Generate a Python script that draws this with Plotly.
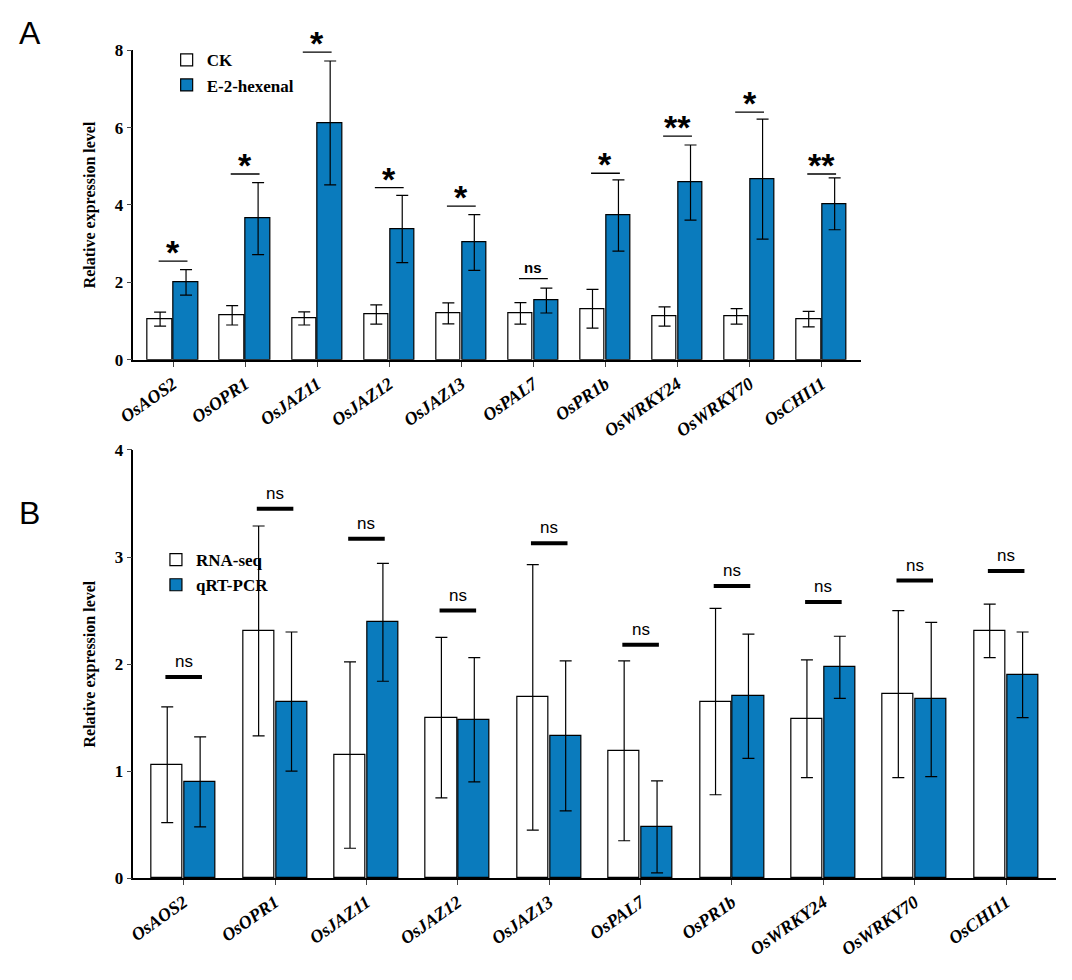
import plotly.graph_objects as go

genes = ["OsAOS2", "OsOPR1", "OsJAZ11", "OsJAZ12", "OsJAZ13", "OsPAL7", "OsPR1b", "OsWRKY24", "OsWRKY70", "OsCHI11"]

ck = [1.05, 1.15, 1.07, 1.17, 1.2, 1.2, 1.32, 1.12, 1.12, 1.05]
ck_err = [0.18, 0.25, 0.17, 0.25, 0.27, 0.28, 0.5, 0.25, 0.2, 0.2]
hex_ = [2.0, 3.65, 6.12, 3.38, 3.03, 1.53, 3.73, 4.58, 4.67, 4.03]
hex_err = [0.33, 0.93, 1.6, 0.87, 0.72, 0.32, 0.92, 0.97, 1.55, 0.67]
sig_a_y = [2.55, 4.8, 7.95, 4.45, 3.97, 2.1, 4.82, 5.78, 6.4, 4.8]
sig_a = ["*", "*", "*", "*", "*", "ns", "*", "**", "*", "**"]

rna = [1.06, 2.31, 1.15, 1.5, 1.69, 1.19, 1.65, 1.49, 1.72, 2.31]
rna_err = [0.54, 0.98, 0.87, 0.75, 1.24, 0.84, 0.87, 0.55, 0.78, 0.25]
qpcr = [0.9, 1.65, 2.39, 1.48, 1.33, 0.48, 1.7, 1.97, 1.67, 1.9]
qpcr_err = [0.42, 0.65, 0.55, 0.58, 0.7, 0.43, 0.58, 0.29, 0.72, 0.4]
sig_b_y = [1.88, 3.45, 3.17, 2.5, 3.13, 2.18, 2.73, 2.58, 2.78, 2.87]

BLUE = "#0a7bbd"
SERIF = "Liberation Serif"
idx = list(range(len(genes)))

fig = go.Figure()

def add_bars(vals, err, name, color, xa, ya, legend, offset):
    fig.add_trace(go.Bar(
        x=[i + offset for i in idx], y=vals, name="<b>%s</b>" % name, width=0.34,
        marker=dict(color=color, line=dict(color="black", width=1.2)),
        error_y=dict(type="data", array=err, color="black", thickness=1.2, width=6),
        xaxis=xa, yaxis=ya, legend=legend))

add_bars(ck, ck_err, "CK", "white", "x", "y", "legend", -0.18)
add_bars(hex_, hex_err, "E-2-hexenal", BLUE, "x", "y", "legend", 0.18)
add_bars(rna, rna_err, "RNA-seq", "white", "x2", "y2", "legend2", -0.18)
add_bars(qpcr, qpcr_err, "qRT-PCR", BLUE, "x2", "y2", "legend2", 0.18)

for i, (y, s) in enumerate(zip(sig_a_y, sig_a)):
    fig.add_shape(type="line", x0=i - 0.2, x1=i + 0.2, y0=y, y1=y, xref="x", yref="y",
                  line=dict(color="black", width=1.3))
    fig.add_annotation(x=i, y=y, xref="x", yref="y", text="<b>%s</b>" % s, showarrow=False,
                       yanchor="bottom", yshift=-12 if s != "ns" else 1,
                       font=dict(family="Liberation Sans", size=34 if s != "ns" else 15, color="black"))
for i, y in enumerate(sig_b_y):
    fig.add_shape(type="line", x0=i - 0.2, x1=i + 0.2, y0=y, y1=y, xref="x2", yref="y2",
                  line=dict(color="black", width=4))
    fig.add_annotation(x=i, y=y, xref="x2", yref="y2", text="ns", showarrow=False, yanchor="bottom",
                       yshift=4, font=dict(family="Liberation Sans", size=17, color="black"))

ticktext = ["<b><i>%s</i></b>" % g for g in genes]
xcommon = dict(tickvals=idx, ticktext=ticktext, range=[-0.55, 9.55], tickangle=-35,
               showline=True, linecolor="black", linewidth=1.5, ticks="outside", ticklen=5,
               tickfont=dict(family=SERIF, size=18, color="black"), zeroline=False)
ycommon = dict(showline=True, linecolor="black", linewidth=1.5, ticks="outside", ticklen=5,
               showgrid=False, zeroline=False,
               tickfont=dict(family=SERIF, size=17, color="black", weight="bold"))
ytitle = dict(text="<b>Relative expression level</b>", font=dict(family=SERIF, size=16, color="black"))

fig.update_layout(
    width=1072, height=980, plot_bgcolor="white", paper_bgcolor="white",
    margin=dict(l=0, r=0, t=0, b=0, autoexpand=False), barmode="overlay", bargap=0,
    xaxis=dict(domain=[0.117, 0.796], anchor="y", **xcommon),
    yaxis=dict(domain=[0.641, 0.957], anchor="x", range=[0, 8], dtick=2, title=ytitle, **ycommon),
    xaxis2=dict(domain=[0.117, 0.978], anchor="y2", **xcommon),
    yaxis2=dict(domain=[0.112, 0.549], anchor="x2", range=[0, 4], dtick=1, title=ytitle, **ycommon),
    legend=dict(x=0.148, y=0.965, xanchor="left", yanchor="top", bgcolor="rgba(0,0,0,0)",
                font=dict(family=SERIF, size=17, color="black"), itemwidth=30, traceorder="normal"),
    legend2=dict(x=0.138, y=0.455, xanchor="left", yanchor="top", bgcolor="rgba(0,0,0,0)",
                 font=dict(family=SERIF, size=17, color="black"), itemwidth=30, traceorder="normal"),
    showlegend=True,
)

fig.add_annotation(x=0.008, y=0.995, xref="paper", yref="paper", text="A", showarrow=False,
                   xanchor="left", yanchor="top", font=dict(family="Liberation Sans", size=32, color="black"))
fig.add_annotation(x=0.008, y=0.505, xref="paper", yref="paper", text="B", showarrow=False,
                   xanchor="left", yanchor="top", font=dict(family="Liberation Sans", size=32, color="black"))

fig.write_html("out.html")
